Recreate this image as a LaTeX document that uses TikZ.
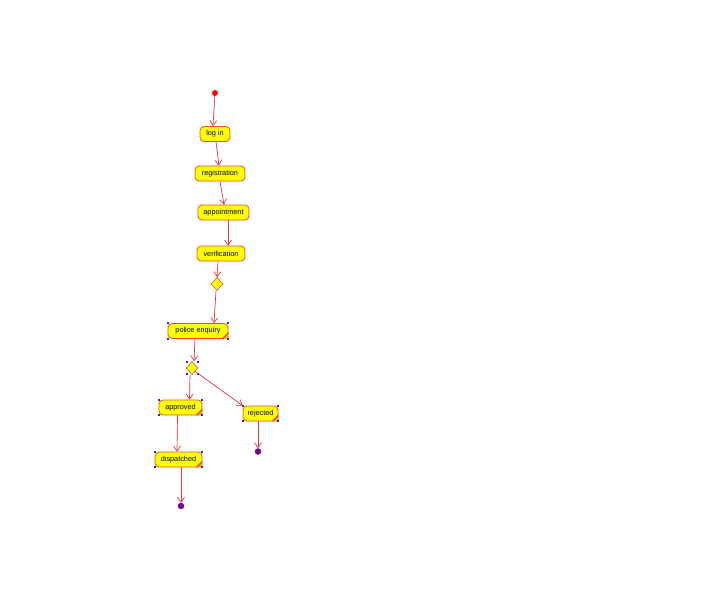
\documentclass[tikz,border=0pt]{standalone}
\usepackage{fontspec}
\setmainfont{Liberation Sans}
\usetikzlibrary{shapes.geometric,arrows.meta}
\definecolor{flow}{RGB}{222,52,64}
\definecolor{edge}{RGB}{230,80,40}
\definecolor{actfill}{RGB}{255,255,0}
\definecolor{enddot}{RGB}{128,0,128}
\definecolor{handle}{RGB}{40,40,200}
\tikzset{
  act/.style={draw=edge, fill=actfill, rounded corners=4pt, minimum height=15pt,
    inner sep=0pt, font=\fontsize{7.3}{8}\selectfont, line width=0.8pt},
  dec/.style={diamond, draw=edge, fill=actfill, minimum width=12pt, minimum height=13pt,
    inner sep=0pt, line width=0.6pt},
  flowline/.style={draw=flow, line width=0.7pt, -{Straight Barb[length=5pt,width=7pt]}},
  startdot/.style={circle, fill=red, inner sep=0pt, minimum size=6pt},
  enddotst/.style={circle, fill=enddot, draw=handle!60!enddot, line width=0.4pt, inner sep=0pt, minimum size=6pt},
  hnd/.style={fill=handle, inner sep=0pt, minimum size=2pt},
}
\newcommand{\hatchcorner}[1]{%
  \fill[edge] ([xshift=-7pt]#1.south east) -- (#1.south east) -- ([yshift=7pt]#1.south east) -- cycle;
  \foreach \d in {2,4}{\draw[actfill,line width=0.5pt] ([xshift=-\d pt]#1.south east) -- ([yshift=\d pt]#1.south east);}%
}
\newcommand{\handles}[1]{%
  \foreach \a in {north west,north east,south west,south east}{\node[hnd] at (#1.\a) {};}%
}
\begin{document}
\begin{tikzpicture}[x=1pt,y=-1pt]
\useasboundingbox (0,0) rectangle (720,613);
\fill[white] (0,0) rectangle (720,613);

\node[startdot] (start) at (215,93) {};
\node[act, minimum width=30pt] (login) at (215,134) {log in};
\node[act, minimum width=50pt] (reg) at (220,173.5) {registration};
\node[act, minimum width=51pt] (app) at (223.5,212.5) {appointment};
\node[act, minimum width=48pt] (ver) at (221,253.5) {verification};
\node[dec] (d1) at (217,284) {};
\node[act, minimum width=60pt] (police) at (198,331) {police enquiry};
\node[dec] (d2) at (192,368) {};
\node[act, minimum width=43pt] (appr) at (180.5,407.5) {approved};
\node[act, minimum width=35pt] (rej) at (260.5,413.5) {rejected};
\node[act, minimum width=47pt] (disp) at (178.5,459.5) {dispatched};
\node[enddotst] (end1) at (181,506) {};
\node[enddotst] (end2) at (258,451.5) {};

\hatchcorner{police}
\hatchcorner{appr}
\hatchcorner{rej}
\hatchcorner{disp}
\handles{police}
\handles{appr}
\handles{rej}
\handles{disp}
\node[hnd] at ([xshift=-5pt,yshift=-6pt]d2.center) {};
\node[hnd] at ([xshift=6pt,yshift=-6pt]d2.center) {};
\node[hnd] at ([xshift=-5pt,yshift=6pt]d2.center) {};
\node[hnd] at ([xshift=6pt,yshift=6pt]d2.center) {};

\draw[flowline] (start) -- ([xshift=-2pt]login.north);
\draw[flowline] ([xshift=1pt]login.south) -- ([xshift=-1pt]reg.north);
\draw[flowline] (reg.south) -- ([xshift=0.5pt]app.north);
\draw[flowline] ([xshift=4.5pt]app.south) -- ([xshift=7pt]ver.north);
\draw[flowline] ([xshift=-3pt]ver.south) -- (d1.north);
\draw[flowline] ([xshift=-1pt]d1.south) -- ([xshift=16pt]police.north);
\draw[flowline] ([xshift=-3pt]police.south) -- ([xshift=2pt]d2.north);
\draw[flowline] ([xshift=-2pt]d2.south) -- ([xshift=9pt]appr.north);
\draw[flowline] (d2.south east) -- (rej.north west);
\draw[flowline] ([xshift=-3pt]appr.south) -- ([xshift=-1.5pt]disp.north);
\draw[flowline] ([xshift=2.5pt]disp.south) -- (end1);
\draw[flowline] ([xshift=-2.5pt]rej.south) -- (end2);
\end{tikzpicture}
\end{document}
